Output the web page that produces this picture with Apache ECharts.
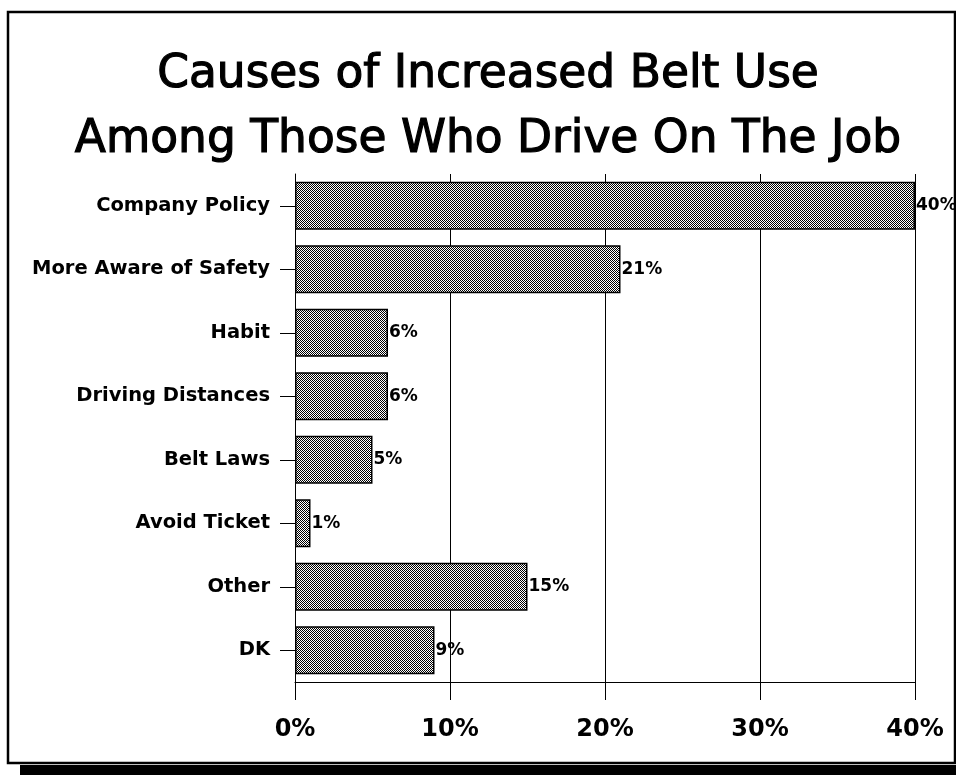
<!DOCTYPE html>
<html>
<head>
<meta charset="utf-8">
<style>
  html, body { margin: 0; padding: 0; background: #fff; }
  #chart { width: 956px; height: 775px; }
</style>
<script src="https://cdn.jsdelivr.net/npm/echarts@6/dist/echarts.min.js"></script>
</head>
<body>
<div id="chart"></div>
<script>
// Survey results: reasons given for wearing seat belts more often
const categories = [
  'Company Policy',
  'More Aware of Safety',
  'Habit',
  'Driving Distances',
  'Belt Laws',
  'Avoid Ticket',
  'Other',
  'DK'
];
const shares = [40, 21, 6, 6, 5, 1, 15, 9];
const titleLines = ['Causes of Increased Belt Use', 'Among Those Who Drive On The Job'];
const axisMax = 40;
const axisStep = 10;

// Stippled fill for the bars: one-pixel black/white checkerboard
function makeStipple() {
  const c = document.createElement('canvas');
  c.width = 2; c.height = 2;
  const g = c.getContext('2d');
  g.fillStyle = '#ffffff';
  g.fillRect(0, 0, 2, 2);
  g.fillStyle = '#000000';
  g.fillRect(0, 0, 1, 1);
  g.fillRect(1, 1, 1, 1);
  return c;
}

const FONT = 'DejaVu Sans';
const chart = echarts.init(document.getElementById('chart'), null, { renderer: 'canvas' });

function titleText(str, y) {
  return {
    type: 'text',
    x: 488, y: y,
    style: {
      text: str,
      font: 'normal 45.5px "' + FONT + '"',
      fill: '#000',
      stroke: '#000',
      lineWidth: 1.2,
      textAlign: 'center',
      textVerticalAlign: 'middle'
    }
  };
}

chart.setOption({
  backgroundColor: '#ffffff',
  animation: false,
  grid: { left: 295, right: 41, top: 174, bottom: 93, containLabel: false },
  graphic: [
    {
      type: 'rect',
      shape: { x: 8, y: 12, width: 947, height: 751 },
      style: { fill: 'none', stroke: '#000', lineWidth: 2.5 },
      silent: true
    },
    {
      type: 'rect',
      shape: { x: 20, y: 765, width: 940, height: 12 },
      style: { fill: '#000' },
      silent: true
    },
    titleText(titleLines[0], 75),
    titleText(titleLines[1], 140)
  ],
  xAxis: {
    type: 'value',
    min: 0,
    max: axisMax,
    interval: axisStep,
    axisLine: { show: true, lineStyle: { color: '#000', width: 1 } },
    axisTick: { show: true, length: 18, lineStyle: { color: '#000', width: 1 } },
    splitLine: { show: true, lineStyle: { color: '#000', width: 1 } },
    axisLabel: {
      margin: 36,
      formatter: '{value}%',
      color: '#000',
      fontFamily: FONT,
      fontWeight: 'bold',
      fontSize: 24
    }
  },
  yAxis: {
    type: 'category',
    inverse: true,
    data: categories,
    axisLine: { show: true, lineStyle: { color: '#000', width: 1 } },
    axisTick: { show: true, alignWithLabel: true, length: 15, lineStyle: { color: '#000', width: 1 } },
    splitLine: { show: false },
    axisLabel: {
      margin: 25,
      color: '#000',
      fontFamily: FONT,
      fontWeight: 'bold',
      fontSize: 19.5
    }
  },
  series: [{
    type: 'bar',
    data: shares,
    barWidth: 48,
    itemStyle: {
      color: { image: makeStipple(), repeat: 'repeat' },
      borderColor: '#000',
      borderWidth: 1.5
    },
    label: {
      show: true,
      position: 'right',
      distance: 1,
      formatter: '{c}%',
      color: '#000',
      fontFamily: FONT,
      fontWeight: 'bold',
      fontSize: 17
    }
  }]
});
</script>
</body>
</html>
